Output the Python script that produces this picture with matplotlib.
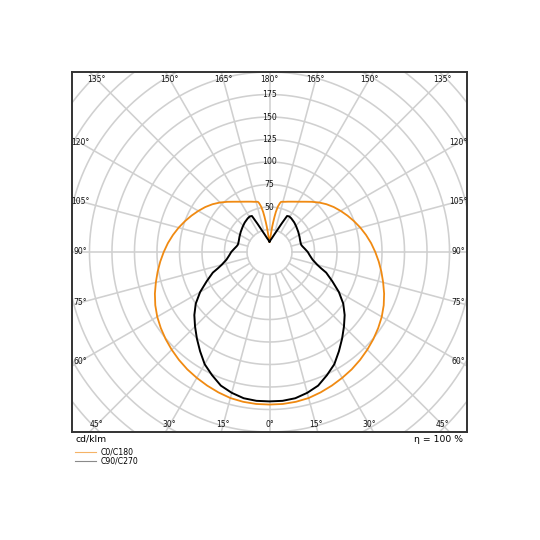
import numpy as np
import matplotlib
matplotlib.use("Agg")
import matplotlib.pyplot as plt
from matplotlib.lines import Line2D

# ---- data (cd/klm), gamma in degrees, 0 = straight down ----
gamma_c0 = [0, 5, 10, 15, 20, 25, 30, 35, 40, 45, 50, 55, 60, 65, 70, 75, 80, 85, 90,
            95, 100, 105, 110, 115, 120, 125, 130, 135, 140, 145, 150, 155, 160, 163,
            165, 167, 168, 169.6, 171, 171.9, 173, 173.9, 175, 176.3, 178, 180]
i_c0 = [169.5, 169.5, 169, 168, 166, 163.8, 161.5, 159.2, 156.5, 153.6, 150.6, 147.4,
        144, 140, 135.5, 130.7, 126.2, 121.8, 117.5, 113.3, 108.9, 104.5, 100, 95.6, 91.3,
        87.1, 82.6, 77.8, 72.8, 68.2, 64.5, 61.7, 59.5, 58.3, 57.8, 57.2, 55.5, 51.2, 45,
        39.6, 33, 28.3, 22.5, 17, 13.5, 11.5]

gamma_c90 = [0, 5, 10, 15, 20, 25, 30, 35, 40, 45, 50, 55, 60, 65, 70, 72.5, 75, 80,
             85, 90, 95, 100, 102.5, 105, 110, 117, 125, 133.5, 140, 147, 151, 154,
             157, 160, 165, 170, 175, 180]
i_c90 = [166, 166, 165, 162, 158, 151, 144, 134.5, 125.5, 117, 109, 100, 89, 77, 67,
         60, 55, 48.5, 45, 42.5, 39.5, 37, 36.2, 36, 36.3, 37.4, 39, 41, 42.8, 44.5,
         45.2, 44.5, 34, 26.7, 19.8, 15.7, 13.3, 11.5]

labels = ["C0/C180", "C90/C270"]
radial_ticks = [50, 75, 100, 125, 150, 175]
grid_radii = list(range(25, 325, 25))
grid_angles = list(range(0, 360, 15))
unit_label = "cd/klm"
eff_label = "η = 100 %"

ORANGE = "#f08a12"
GRID = "#d0d0d0"

fig = plt.figure(figsize=(5.4, 5.4), dpi=100)
ax = fig.add_axes([72 / 540, 1 - 432 / 540, 395 / 540, 360 / 540])
XL, YL = 219.4, 200.0
ax.set_xlim(-XL, XL)
ax.set_ylim(-YL, YL)
ax.set_xticks([])
ax.set_yticks([])
for s in ax.spines.values():
    s.set_color("#333333")
    s.set_linewidth(1.4)

# grid circles
t = np.linspace(0, 2 * np.pi, 721)
for r in grid_radii:
    ax.plot(r * np.cos(t), r * np.sin(t), color=GRID, lw=1.15, zorder=1)
# radial lines
for a in grid_angles:
    ar = np.deg2rad(a)
    ax.plot([25 * np.sin(ar), 330 * np.sin(ar)], [-25 * np.cos(ar), -330 * np.cos(ar)],
            color=GRID, lw=1.15, zorder=1)

# angle labels on inset rectangle
W, H = 210.0, 192.2
for a in grid_angles:
    ar = np.deg2rad(a)
    sx, sy = np.sin(ar), -np.cos(ar)
    tx = W / abs(sx) if abs(sx) > 1e-9 else np.inf
    ty = H / abs(sy) if abs(sy) > 1e-9 else np.inf
    tt = min(tx, ty)
    g = a if a <= 180 else 360 - a
    ax.text(tt * sx, tt * sy, f"{g}°", ha="center", va="center", fontsize=5.5,
            color="#111111", zorder=3, clip_on=False)

# radial labels
for r in radial_ticks:
    ax.text(0, r, str(r), ha="center", va="center", fontsize=5.6, color="#111111", zorder=3)

# curves
def xy(gam, inten, side):
    g = np.deg2rad(np.asarray(gam, dtype=float))
    i = np.asarray(inten, dtype=float)
    return side * i * np.sin(g), -i * np.cos(g)

for gam, inten, col, lw in [(gamma_c0, i_c0, ORANGE, 1.3), (gamma_c90, i_c90, "black", 1.4)]:
    xr, yr = xy(gam, inten, 1)
    xl, yl = xy(gam, inten, -1)
    x = np.concatenate([xl[::-1], xr])
    y = np.concatenate([yl[::-1], yr])
    ax.plot(x, y, color=col, lw=lw, zorder=4, solid_joinstyle="round")

fig.text(76 / 540, 1 - 439 / 540, unit_label, ha="left", va="center", fontsize=6.7)
fig.text(463 / 540, 1 - 439 / 540, eff_label, ha="right", va="center", fontsize=6.7)

handles = [Line2D([], [], color="#f5b366", lw=0.8), Line2D([], [], color="#8a8a8a", lw=0.8)]
fig.legend(handles, labels, loc="upper left", bbox_to_anchor=(73 / 540, 1 - 446 / 540),
           frameon=False, fontsize=5.6, handlelength=2.8, handletextpad=0.6,
           labelspacing=0.05, borderaxespad=0, borderpad=0.2)

fig.savefig("out.png", dpi=100)
